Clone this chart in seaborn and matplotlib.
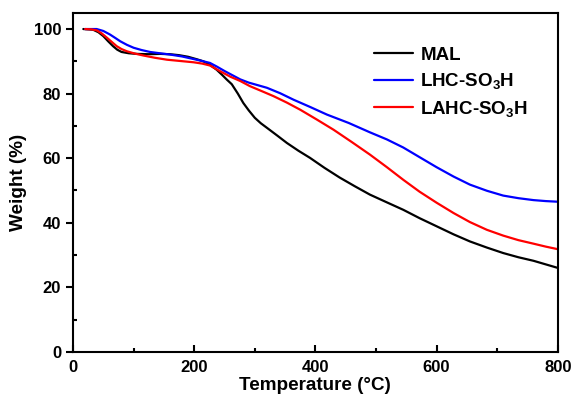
import pandas as pd
import numpy as np
import matplotlib
matplotlib.use('Agg')
import matplotlib.pyplot as plt
import seaborn as sns
from matplotlib.ticker import MultipleLocator

# 数据
mal_t = [17, 33, 42, 50, 58, 66, 73, 80, 92, 105, 125, 144, 160, 175, 190, 205, 215, 226,
         237, 246, 254, 262, 272, 281, 290, 300, 310, 320, 337, 353, 372, 391, 415, 440,
         465, 490, 518, 545, 572, 600, 628, 655, 683, 710, 735, 760, 780, 800]
mal_w = [100, 99.8, 99.0, 97.8, 96.2, 94.7, 93.6, 92.9, 92.5, 92.3, 92.2, 92.3, 92.2, 91.9, 91.4, 90.6, 90.0, 88.9,
         87.4, 85.8, 84.3, 82.9, 80.0, 77.1, 74.8, 72.5, 70.8, 69.4, 67.0, 64.7, 62.3, 60.1, 57.0, 54.0,
         51.3, 48.7, 46.3, 44.0, 41.4, 38.9, 36.4, 34.2, 32.3, 30.6, 29.3, 28.2, 27.1, 26.0]

lhc_t = [20, 30, 39, 50, 61, 70, 78, 89, 100, 113, 127, 143, 160, 180, 199, 213, 226, 237,
         250, 262, 276, 290, 305, 320, 342, 364, 392, 419, 455, 490, 518, 545, 572, 600,
         628, 655, 683, 710, 735, 760, 780, 800]
lhc_w = [100, 100, 100, 99.4, 98.3, 97.2, 96.2, 95.1, 94.2, 93.5, 92.9, 92.5, 92.1, 91.5, 90.7, 90.1, 89.5, 88.4,
         87.0, 85.8, 84.4, 83.4, 82.6, 81.8, 80.1, 78.1, 75.8, 73.5, 70.9, 68.0, 65.8, 63.3, 60.3, 57.2,
         54.3, 51.8, 49.9, 48.4, 47.6, 47.0, 46.7, 46.5]

lahc_t = [20, 30, 39, 47, 56, 64, 72, 80, 89, 102, 116, 135, 155, 177, 199, 213, 226, 243,
          260, 276, 292, 311, 331, 353, 375, 402, 430, 460, 490, 518, 545, 572, 600, 628,
          655, 683, 710, 735, 760, 780, 800]
lahc_w = [100, 99.9, 99.6, 98.7, 97.3, 96.0, 94.7, 93.8, 93.1, 92.4, 91.8, 91.1, 90.5, 90.1, 89.7, 89.3, 88.7, 86.9,
          85.2, 83.9, 82.3, 80.8, 79.2, 77.2, 75.0, 72.0, 68.8, 65.0, 61.1, 57.2, 53.3, 49.6, 46.2, 43.0,
          40.2, 37.8, 36.0, 34.6, 33.5, 32.6, 31.8]

labels = ['MAL', 'LHC-SO$_3$H', 'LAHC-SO$_3$H']
colors = ['black', '#0000ff', '#ff0000']

df = pd.concat([
    pd.DataFrame({'T': mal_t, 'W': mal_w, 'sample': labels[0]}),
    pd.DataFrame({'T': lhc_t, 'W': lhc_w, 'sample': labels[1]}),
    pd.DataFrame({'T': lahc_t, 'W': lahc_w, 'sample': labels[2]}),
])

sns.set_style('ticks')
plt.rcParams['font.family'] = ['Liberation Sans', 'DejaVu Sans']
plt.rcParams['font.weight'] = 'bold'
plt.rcParams['mathtext.fontset'] = 'custom'
plt.rcParams['mathtext.rm'] = 'Liberation Sans:bold'
plt.rcParams['mathtext.bf'] = 'Liberation Sans:bold'
plt.rcParams['mathtext.default'] = 'rm'
for k in ['text.color', 'axes.labelcolor', 'xtick.color', 'ytick.color', 'axes.edgecolor']:
    plt.rcParams[k] = 'black'

fig = plt.figure(figsize=(5.75, 4.03), dpi=100)
ax = fig.add_axes([0.127, 0.127, 0.843, 0.841])

sns.lineplot(data=df, x='T', y='W', hue='sample', palette=dict(zip(labels, colors)),
             linewidth=1.6, ax=ax, sort=False, estimator=None)

ax.set_xlim(0, 800)
ax.set_ylim(0, 105)
ax.xaxis.set_major_locator(MultipleLocator(200))
ax.xaxis.set_minor_locator(MultipleLocator(100))
ax.yaxis.set_major_locator(MultipleLocator(20))
ax.yaxis.set_minor_locator(MultipleLocator(10))
ax.tick_params(axis='x', which='both', direction='in', width=1.5, labelsize=12, pad=6)
ax.tick_params(axis='x', which='major', length=5)
ax.tick_params(axis='x', which='minor', length=3)
ax.tick_params(axis='y', which='major', direction='out', length=5, width=1.5, labelsize=12)
ax.tick_params(axis='y', which='minor', direction='in', length=3, width=1.5)
for s in ax.spines.values():
    s.set_linewidth(1.5)
for lab in ax.get_xticklabels() + ax.get_yticklabels():
    lab.set_fontweight('bold')

ax.set_xlabel('Temperature (°C)', fontsize=13.6, fontweight='bold', labelpad=1)
ax.set_ylabel('Weight (%)', fontsize=13.6, fontweight='bold', labelpad=5)

leg = ax.legend(frameon=False, loc='upper left', bbox_to_anchor=(0.62, 0.90),
                prop={'size': 13.5, 'weight': 'bold'}, handlelength=2.1, handletextpad=0.4,
                labelspacing=0.4, borderaxespad=0, borderpad=0)

fig.savefig('out.png', dpi=100)
